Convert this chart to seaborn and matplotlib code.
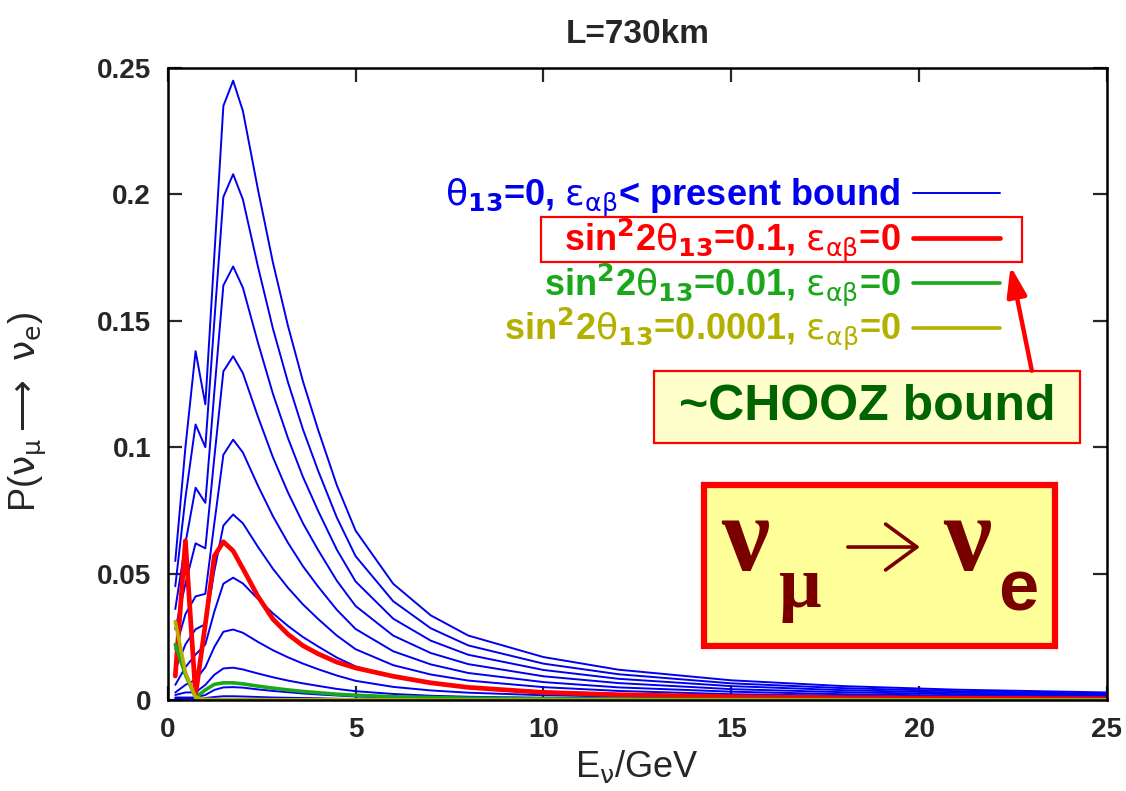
import numpy as np
import seaborn as sns
import matplotlib.pyplot as plt
from matplotlib.patches import Rectangle

# Energy grid (GeV) shared by all curves
energy = [0.2, 0.47, 0.74, 1.0, 1.24, 1.48, 1.74, 2.0, 2.4, 2.8, 3.2, 3.6,
          4.0, 4.5, 5.0, 6.0, 7.0, 8.0, 10.0, 12.0, 15.0, 18.0, 21.0, 25.0]

# theta13=0, NSI below present bound (family of blue curves)
blue_1 = [0.055, 0.100, 0.138, 0.117, 0.176, 0.235, 0.245, 0.233, 0.202, 0.173, 0.148, 0.126,
          0.107, 0.085, 0.067, 0.046, 0.0335, 0.0255, 0.0170, 0.0120, 0.0078, 0.0055, 0.0041, 0.0030]
blue_2 = [0.045, 0.080, 0.109, 0.100, 0.150, 0.199, 0.208, 0.198, 0.1715, 0.1469, 0.1257, 0.107,
          0.0908, 0.0722, 0.0569, 0.0391, 0.0284, 0.0216, 0.0144, 0.0102, 0.0066, 0.0047, 0.0035, 0.0025]
blue_3 = [0.036, 0.062, 0.084, 0.078, 0.122, 0.164, 0.1715, 0.1631, 0.1414, 0.1211, 0.1036, 0.0882,
          0.0749, 0.0595, 0.0469, 0.0322, 0.0235, 0.0179, 0.0119, 0.0084, 0.0055, 0.0039, 0.0029, 0.0021]
blue_4 = [0.028, 0.046, 0.062, 0.060, 0.096, 0.130, 0.136, 0.1293, 0.1121, 0.0960, 0.0821, 0.0699,
          0.0594, 0.0472, 0.0372, 0.0255, 0.0186, 0.0142, 0.0094, 0.0067, 0.0043, 0.0031, 0.0023, 0.0017]
blue_5 = [0.020, 0.034, 0.041, 0.042, 0.070, 0.097, 0.103, 0.0979, 0.0848, 0.0727, 0.0622, 0.0529,
          0.0449, 0.0357, 0.0281, 0.0193, 0.0141, 0.0107, 0.0071, 0.0050, 0.0033, 0.0023, 0.0017, 0.0013]
blue_6 = [0.012, 0.022, 0.028, 0.030, 0.051, 0.069, 0.0734, 0.0699, 0.0606, 0.0519, 0.0444, 0.0378,
          0.0321, 0.0255, 0.0201, 0.0138, 0.0101, 0.0077, 0.0051, 0.0036, 0.0023, 0.0017, 0.0012, 0.0009]
blue_7 = [0.006, 0.013, 0.018, 0.022, 0.035, 0.046, 0.0484, 0.0461, 0.0400, 0.0343, 0.0293, 0.0249,
          0.0212, 0.0168, 0.0133, 0.0091, 0.0066, 0.0050, 0.0034, 0.0024, 0.0015, 0.0011, 0.0008, 0.0006]
blue_8 = [0.003, 0.006, 0.008, 0.013, 0.021, 0.027, 0.0279, 0.0266, 0.0230, 0.0197, 0.0169, 0.0144,
          0.0122, 0.0097, 0.0076, 0.0052, 0.0038, 0.0029, 0.0019, 0.0014, 0.0009, 0.0006, 0.0005, 0.0003]
blue_9 = [0.002, 0.003, 0.003, 0.006, 0.010, 0.0125, 0.0128, 0.0121, 0.0105, 0.0090, 0.0077, 0.0066,
          0.0056, 0.0044, 0.0035, 0.0024, 0.0017, 0.0013, 0.0009, 0.0006, 0.0004, 0.0003, 0.0002, 0.0002]
blue_10 = [0.001, 0.001, 0.001, 0.002, 0.004, 0.005, 0.0051, 0.0049, 0.0042, 0.0036, 0.0031, 0.0026,
           0.0022, 0.0018, 0.0014, 0.0010, 0.0007, 0.0005, 0.0004, 0.0003, 0.0002, 0.0001, 0.0001, 0.0001]
blue_11 = [0.0005, 0.0005, 0.0005, 0.0008, 0.0012, 0.0015, 0.0015, 0.0014, 0.0012, 0.0010, 0.0009, 0.0008,
           0.0007, 0.0005, 0.0004, 0.0003, 0.0002, 0.0002, 0.0001, 0.0001, 0.0001, 0.0, 0.0, 0.0]
blue_curves = [blue_1, blue_2, blue_3, blue_4, blue_5, blue_6, blue_7, blue_8, blue_9, blue_10, blue_11]

# sin^2 2theta13 = 0.1, 0.01, 0.0001 with no NSI
red_01 = [0.0095, 0.063, 0.002, 0.030, 0.057, 0.0626, 0.059, 0.052, 0.041, 0.032, 0.026, 0.0215,
          0.0183, 0.0150, 0.0127, 0.0094, 0.0068, 0.0050, 0.0030, 0.0021, 0.0013, 0.0009, 0.0007, 0.0005]
green_001 = [0.022, 0.010, 0.001, 0.004, 0.0062, 0.0068, 0.0068, 0.0064, 0.0055, 0.0047, 0.0040, 0.0034,
             0.0029, 0.0023, 0.0019, 0.0013, 0.0010, 0.0007, 0.0005, 0.0003, 0.0002, 0.00015, 0.0001, 0.0001]
olive_00001 = [0.031, 0.011, 0.001, 0.0003, 0.0002, 0.0002, 0.0002, 0.0002, 0.0002, 0.0001, 0.0001, 0.0001,
               0.0001, 0.0001, 0.0001, 0.0001, 0.0, 0.0, 0.0, 0.0, 0.0, 0.0, 0.0, 0.0]

legend_labels = [
    r"$\mathrm{\theta}_{\mathbf{13}}$=0, $\mathrm{\varepsilon}_{\mathrm{\alpha\beta}}$< present bound",
    r"sin$^{\mathbf{2}}$2$\mathrm{\theta}_{\mathbf{13}}$=0.1, $\mathrm{\varepsilon}_{\mathrm{\alpha\beta}}$=0",
    r"sin$^{\mathbf{2}}$2$\mathrm{\theta}_{\mathbf{13}}$=0.01, $\mathrm{\varepsilon}_{\mathrm{\alpha\beta}}$=0",
    r"sin$^{\mathbf{2}}$2$\mathrm{\theta}_{\mathbf{13}}$=0.0001, $\mathrm{\varepsilon}_{\mathrm{\alpha\beta}}$=0",
]
xticks = [0, 5, 10, 15, 20, 25]
yticks = [0, 0.05, 0.1, 0.15, 0.2, 0.25]
ytick_labels = ["0", "0.05", "0.1", "0.15", "0.2", "0.25"]

BLUE = "#0000ee"
RED = "#ff0000"
GREEN = "#1aa81a"
OLIVE = "#b4b000"
MAROON = "#7a0000"

sns.set_style("ticks")
plt.rcParams["font.family"] = ["Liberation Sans", "DejaVu Sans"]
plt.rcParams["mathtext.fontset"] = "dejavusans"

fig = plt.figure(figsize=(11.26, 7.91), dpi=100)
ax = fig.add_axes([0.149, 0.115, 0.834, 0.799])

# Draw curves: blue family first, then red, green, olive on top
blue_lines = []
for vals in blue_curves:
    sns.lineplot(x=energy, y=vals, color=BLUE, linewidth=1.4, ax=ax)
    blue_lines.append(ax.lines[-1])
sns.lineplot(x=energy, y=red_01, color=RED, linewidth=3.4, ax=ax)
red_line = ax.lines[-1]
sns.lineplot(x=energy, y=green_001, color=GREEN, linewidth=2.6, ax=ax)
green_line = ax.lines[-1]
sns.lineplot(x=energy, y=olive_00001, color=OLIVE, linewidth=2.6, ax=ax)
olive_line = ax.lines[-1]

ax.set_xlim(0, 25)
ax.set_ylim(0, 0.25)
ax.set_xticks(xticks)
ax.set_yticks(yticks)
ax.set_yticklabels(ytick_labels)
ax.tick_params(direction="in", length=10, width=1.6, top=True, right=True,
               labelsize=20, pad=12)
for lab in ax.get_xticklabels() + ax.get_yticklabels():
    lab.set_fontweight("bold")
for sp in ax.spines.values():
    sp.set_linewidth(1.8)
    sp.set_color("black")

ax.set_title("L=730km", fontsize=24, fontweight="bold", pad=18)
ax.set_xlabel(r"E$_{\mathrm{\nu}}$/GeV", fontsize=26, labelpad=4)
ax.set_ylabel(r"P($\mathrm{\nu_{\mu}}\longrightarrow\ \mathrm{\nu_{e}}$)", fontsize=26)
ax.yaxis.set_label_coords(-0.126, 0.456)

# Legend: text right-aligned, line sample on the right
leg = ax.legend([blue_lines[0], red_line, green_line, olive_line], legend_labels,
                loc="upper right", bbox_to_anchor=(0.886, 0.8276), markerfirst=False,
                frameon=False, prop={"weight": "bold", "size": 26}, handlelength=2.4,
                handletextpad=0.35, labelspacing=-0.07, borderpad=0, borderaxespad=0,
                labelcolor="linecolor")
for t in leg.get_texts():
    t.set_math_fontfamily("dejavusans")

# Red box around the CHOOZ-bound legend entry
ax.add_patch(Rectangle((0.3972, 0.693), 0.5122, 0.0712, transform=ax.transAxes,
                       fill=False, edgecolor=RED, linewidth=1.6, clip_on=False, zorder=6))

# ~CHOOZ bound box
ax.add_patch(Rectangle((0.5176, 0.4066), 0.4537, 0.1139, transform=ax.transAxes,
                       facecolor="#ffffcc", edgecolor=RED, linewidth=1.6, zorder=5))
ax.text(0.7444, 0.4636, "~CHOOZ bound", transform=ax.transAxes, ha="center", va="center",
        fontsize=36, fontweight="bold", color="#006400", zorder=6)
ax.annotate("", xy=(0.8975, 0.6865), xytext=(0.9201, 0.521), xycoords="axes fraction",
            arrowprops=dict(arrowstyle="-|>,head_length=0.9,head_width=0.3", color=RED,
                            lw=3.2, shrinkA=0, shrinkB=0, mutation_scale=20), zorder=6)

# nu_mu -> nu_e box
ax.add_patch(Rectangle((0.5708, 0.0854), 0.3738, 0.2548, transform=ax.transAxes,
                       facecolor="#ffff99", edgecolor=RED, linewidth=4.5, zorder=5))
serif = ["Liberation Serif", "DejaVu Serif"]
ax.text(0.6145, 0.2057, "\u03bd", transform=ax.transAxes, ha="center", va="baseline",
        fontsize=78, fontweight="bold", family=serif, color=MAROON, zorder=6)
ax.text(0.672, 0.1472, "\u03bc", transform=ax.transAxes, ha="center", va="baseline",
        fontsize=54, fontweight="bold", family=serif, color=MAROON, zorder=6)
ax.annotate("", xy=(0.8009, 0.2421), xytext=(0.7242, 0.2421), xycoords="axes fraction",
            arrowprops=dict(arrowstyle="->,head_length=0.75,head_width=0.55", color=MAROON,
                            lw=2.6, shrinkA=0, shrinkB=0, mutation_scale=30), zorder=6)
ax.text(0.8509, 0.2057, "\u03bd", transform=ax.transAxes, ha="center", va="baseline",
        fontsize=78, fontweight="bold", family=serif, color=MAROON, zorder=6)
ax.text(0.9052, 0.1424, "e", transform=ax.transAxes, ha="center", va="baseline",
        fontsize=52, fontweight="bold", family=["Liberation Sans", "DejaVu Sans"],
        color=MAROON, zorder=6)

fig.savefig("out.png", dpi=100)
plt.close(fig)
